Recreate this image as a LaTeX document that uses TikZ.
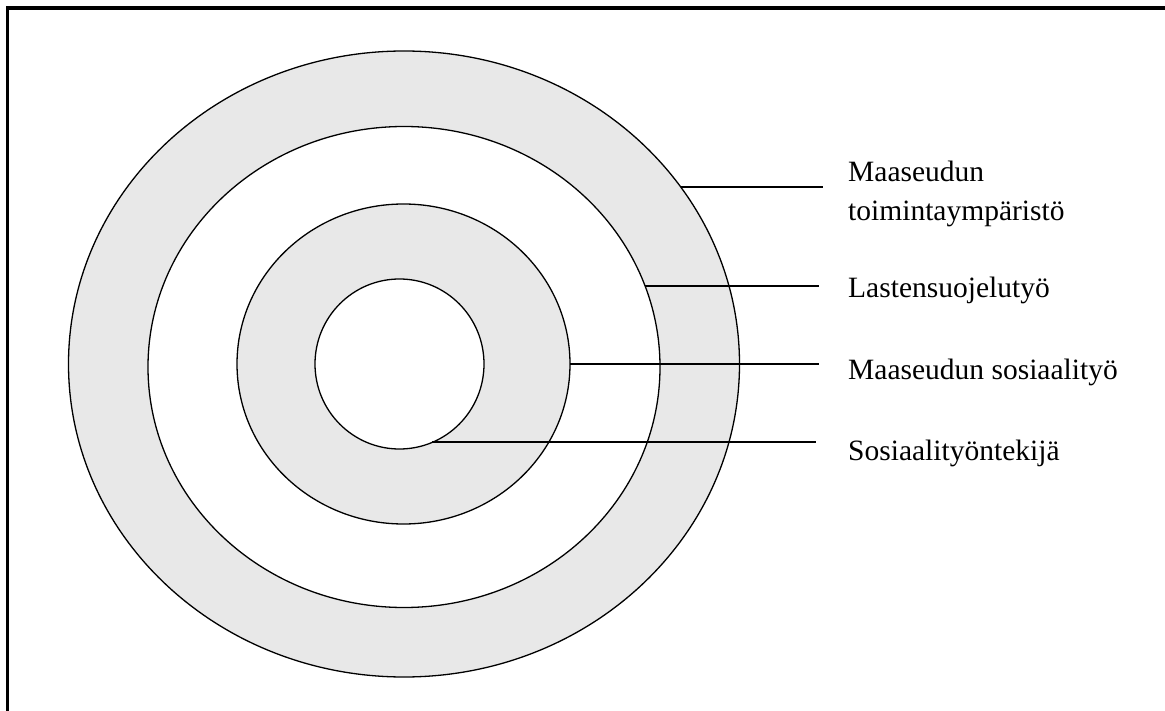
\documentclass[tikz,border=0pt]{standalone}
\usepackage{fontspec}
\setmainfont{Liberation Serif}
\usepackage{tikz}

\begin{document}
\begin{tikzpicture}[x=1pt, y=-1pt,
                ring/.style={draw=black, line width=1.3pt},
                lead/.style={draw=black, line width=1.4pt},
                lbl/.style={anchor=base west, inner sep=0pt, align=left, font=\fontsize{29.5}{39}\selectfont}
            ]
                \useasboundingbox (0,0) rectangle (1165,711);
                % frame
                \draw[line width=3.2pt] (7.5,711) -- (7.5,8) -- (1165,8);
                % rings
                \path[ring, fill=gray!18] (404,364) ellipse [x radius=335.5, y radius=313];
                \path[ring, fill=white] (404,367) ellipse [x radius=256, y radius=240.5];
                \path[ring, fill=gray!18] (403.5,364) ellipse [x radius=166.5, y radius=160];
                \path[ring, fill=white] (399.5,364) ellipse [x radius=84.5, y radius=85];
                % line ends
                \coordinate (r1) at (681,187);
                \coordinate (r2) at (645,286);
                \coordinate (r3) at (570,364);
                \coordinate (r4) at (432,442);
                \coordinate (e1) at (823,187);
                \coordinate (e2) at (819,286);
                \coordinate (e3) at (819,364);
                \coordinate (e4) at (816,442);
                % labels
                \node[lbl] (t1) at (848,182) {Maaseudun};
                \node[lbl] (t1b) at (848,221) {toimintaympäristö};
                \node[lbl] (t2) at (848,298) {Lastensuojelutyö};
                \node[lbl] (t3) at (848,379) {Maaseudun sosiaalityö};
                \node[lbl] (t4) at (848,460) {Sosiaalityöntekijä};
                \draw[lead] (r1) -- (e1);
                \draw[lead] (r2) -- (e2);
                \draw[lead] (r3) -- (e3);
                \draw[lead] (r4) -- (e4);
            \end{tikzpicture}
\end{document}
